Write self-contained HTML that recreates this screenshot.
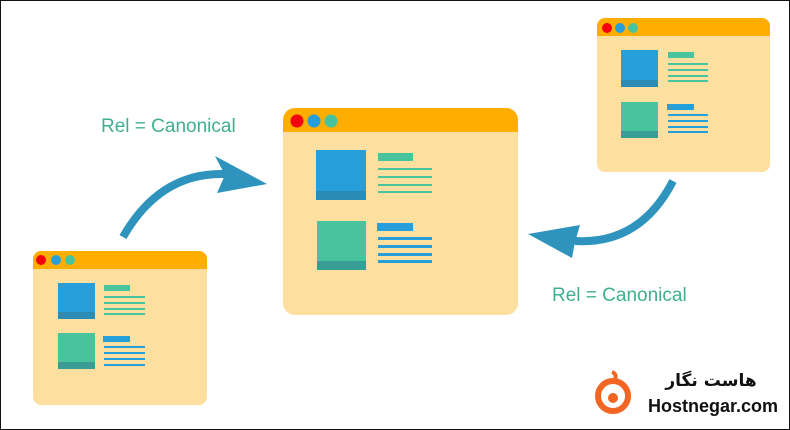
<!DOCTYPE html>
<html><head><meta charset="utf-8"><style>
html,body{margin:0;padding:0;background:#fff}
#c{position:relative;width:788px;height:428px;border:1px solid #111;overflow:hidden;font-family:"Liberation Sans",sans-serif}
.t{position:absolute;color:#3fb08f;font-size:19px;white-space:nowrap}
</style></head><body><div id="c">
<svg width="788" height="428" viewBox="1 1 788 428" style="position:absolute;left:0;top:0">
<!-- main window -->
<rect x="283" y="108" width="235" height="207" rx="12" fill="#fddf9f"/>
<path d="M283 132 V120 a12 12 0 0 1 12 -12 H506 a12 12 0 0 1 12 12 V132Z" fill="#ffae00"/>
<circle cx="297" cy="121" r="6.5" fill="#f5000d"/><circle cx="314" cy="121" r="6.5" fill="#259ed9"/><circle cx="331" cy="121" r="6.5" fill="#47c39e"/>
<rect x="316" y="150" width="50" height="50" fill="#259ed9"/><rect x="316" y="191" width="50" height="9" fill="#2a8bb5"/>
<rect x="378" y="153" width="35" height="8" fill="#47c39e"/>
<g fill="#47c39e"><rect x="378" y="168" width="54" height="2"/><rect x="378" y="176" width="54" height="2"/><rect x="378" y="184" width="54" height="2"/><rect x="378" y="191" width="54" height="2"/></g>
<rect x="317" y="221" width="49" height="49" fill="#47c39e"/><rect x="317" y="261" width="49" height="9" fill="#389e95"/>
<rect x="377" y="223" width="36" height="8" fill="#259ed9"/>
<g fill="#259ed9"><rect x="378" y="237" width="54" height="3"/><rect x="378" y="245" width="54" height="3"/><rect x="378" y="253" width="54" height="3"/><rect x="378" y="260" width="54" height="3"/></g>
<!-- left window -->
<rect x="33" y="251" width="174" height="154" rx="8" fill="#fddf9f"/>
<path d="M33 269 V259 a8 8 0 0 1 8 -8 H199 a8 8 0 0 1 8 8 V269Z" fill="#ffae00"/>
<circle cx="41" cy="260" r="5" fill="#f5000d"/><circle cx="56" cy="260" r="5" fill="#259ed9"/><circle cx="70" cy="260" r="5" fill="#47c39e"/>
<rect x="58" y="283" width="37" height="36" fill="#259ed9"/><rect x="58" y="312" width="37" height="7" fill="#2a8bb5"/>
<rect x="104" y="285" width="26" height="6" fill="#47c39e"/>
<g fill="#47c39e"><rect x="104" y="296" width="41" height="2"/><rect x="104" y="302" width="41" height="2"/><rect x="104" y="308" width="41" height="2"/><rect x="104" y="313" width="41" height="2"/></g>
<rect x="58" y="333" width="37" height="36" fill="#47c39e"/><rect x="58" y="362" width="37" height="7" fill="#389e95"/>
<rect x="103" y="336" width="27" height="6" fill="#259ed9"/>
<g fill="#259ed9"><rect x="104" y="346" width="41" height="2"/><rect x="104" y="352" width="41" height="2"/><rect x="104" y="358" width="41" height="2"/><rect x="104" y="364" width="41" height="2"/></g>
<!-- right window -->
<rect x="597" y="18" width="173" height="154" rx="8" fill="#fddf9f"/>
<path d="M597 36 V26 a8 8 0 0 1 8 -8 H762 a8 8 0 0 1 8 8 V36Z" fill="#ffae00"/>
<circle cx="607" cy="28" r="5" fill="#f5000d"/><circle cx="620" cy="28" r="5" fill="#259ed9"/><circle cx="633" cy="28" r="5" fill="#47c39e"/>
<rect x="621" y="50" width="37" height="37" fill="#259ed9"/><rect x="621" y="80" width="37" height="7" fill="#2a8bb5"/>
<rect x="668" y="52" width="26" height="6" fill="#47c39e"/>
<g fill="#47c39e"><rect x="668" y="63" width="40" height="2"/><rect x="668" y="69" width="40" height="2"/><rect x="668" y="75" width="40" height="2"/><rect x="668" y="80" width="40" height="2"/></g>
<rect x="621" y="102" width="37" height="36" fill="#47c39e"/><rect x="621" y="131" width="37" height="7" fill="#389e95"/>
<rect x="667" y="104" width="27" height="6" fill="#259ed9"/>
<g fill="#259ed9"><rect x="668" y="114" width="40" height="2"/><rect x="668" y="120" width="40" height="2"/><rect x="668" y="126" width="40" height="2"/><rect x="668" y="131" width="40" height="2"/></g>
<!-- arrows -->
<path d="M123 237 Q160 172 225 174" fill="none" stroke="#2e93bd" stroke-width="8"/>
<path d="M267 184 L215 156 L225 175 L217 193Z" fill="#2e93bd"/>
<path d="M673 181 Q640 245 575 241" fill="none" stroke="#2e93bd" stroke-width="8"/>
<path d="M528 234 L580 225 L575 242 L572 258Z" fill="#2e93bd"/>
<!-- logo -->
<circle cx="613" cy="396" r="15" fill="none" stroke="#f26522" stroke-width="6"/>
<circle cx="613" cy="398" r="5" fill="#f26522"/>
<path d="M612 372 q6 2 2 10" fill="none" stroke="#f26522" stroke-width="4"/>
</svg>
<div class="t" style="left:100px;top:115px">Rel = Canonical</div>
<div class="t" style="left:551px;top:284px">Rel = Canonical</div>
<div style="position:absolute;left:660px;top:370px;font-size:17px;font-weight:bold;font-family:'DejaVu Sans',sans-serif;color:#111;direction:rtl;width:100px;text-align:center;white-space:nowrap">هاست نگار</div>
<div style="position:absolute;left:647px;top:395px;font-size:18px;font-weight:bold;color:#111;white-space:nowrap">Hostnegar.com</div>
</div></body></html>
